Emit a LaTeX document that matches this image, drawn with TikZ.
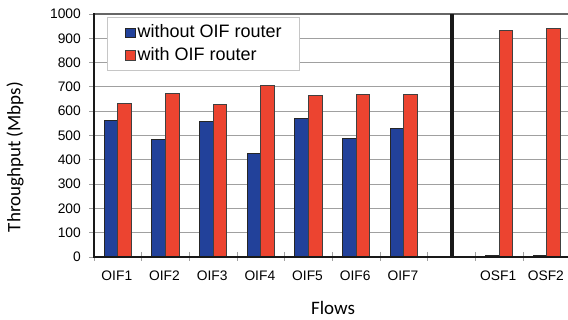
\documentclass[tikz,border=0pt]{standalone}
\usepackage{fontspec}
\setmainfont{Liberation Sans}
\newfontfamily\titlefont{Carlito}
\definecolor{barblue}{HTML}{22419A}
\definecolor{barred}{HTML}{EC4430}
\definecolor{gridgray}{HTML}{A0A0A0}
\tikzset{
  gridline/.style={draw=gridgray, line width=0.9pt},
  axisline/.style={draw=black!90, line width=1.5pt},
  tickline/.style={draw=gridgray, line width=0.9pt},
  bluebar/.style={fill=barblue, draw=black!85, line width=0.8pt},
  redbar/.style={fill=barred, draw=black!75, line width=0.8pt},
  ticklabel/.style={font=\fontsize{13.8}{16}\selectfont, inner sep=0pt},
  legendtext/.style={font=\fontsize{18}{20}\selectfont, inner sep=0pt, anchor=base west},
  axistitle/.style={font=\titlefont\fontsize{19}{22}\selectfont, inner sep=0pt}
}
\begin{document}
\begin{tikzpicture}[x=1pt, y=-1pt]
\useasboundingbox (0,0) rectangle (568,320);

% horizontal grid
\foreach \v in {100,200,...,900} {
  \draw[gridline] (94,{257-0.243*\v}) -- (568,{257-0.243*\v});
}

% legend
\draw[draw=gray!45, fill=white, line width=0.9pt] (107,17) rectangle (299,70);
\draw[bluebar] (125.3,28.3) rectangle (135.3,37.7);
\draw[redbar] (125.3,50.7) rectangle (135.3,60.7);
\node[legendtext] (lgA) at (137.5,37.3) {without OIF router};
\node[legendtext] (lgB) at (137.5,61) {with OIF router};

% bars: category index / without / with / label
\foreach \i/\a/\b/\lab in {0/561/631/OIF1, 1/483/672/OIF2, 2/557/627/OIF3,
    3/425/705/OIF4, 4/572/664/OIF5, 5/490/668/OIF6, 6/530/671/OIF7,
    8/6/934/OSF1, 9/6/939/OSF2} {
  \pgfmathsetmacro\cx{94+47.67*(\i+0.5)}
  \draw[bluebar] ({\cx-13.7},257) rectangle (\cx,{257-0.243*\a});
  \draw[redbar] (\cx,257) rectangle ({\cx+13.7},{257-0.243*\b});
  \node[ticklabel] (x\i) at ({\cx-1},276) {\lab};
}

% x ticks
\foreach \k in {0,...,10} {
  \draw[tickline] ({94+47.67*\k},252) -- ({94+47.67*\k},261);
}

% y ticks and labels
\foreach \v in {0,100,...,1000} {
  \draw[tickline] (89,{257-0.243*\v}) -- (94,{257-0.243*\v});
  \node[ticklabel, anchor=east] (y\v) at (81,{257-0.243*\v}) {\v};
}

% frame
\draw[draw=black!60, line width=1.5pt] (94,14) -- (568,14);
\draw[axisline] (94,13.3) -- (94,258);
\draw[axisline] (94,257) -- (568,257);
\draw[draw=black!90, line width=3.3pt] (452,14) -- (452,257);

% axis titles
\node[axistitle, rotate=90] (ytitle) at (15,157) {Throughput (Mbps)};
\node[axistitle, anchor=base] (xtitle) at (333,314.3) {Flows};
\end{tikzpicture}
\end{document}
